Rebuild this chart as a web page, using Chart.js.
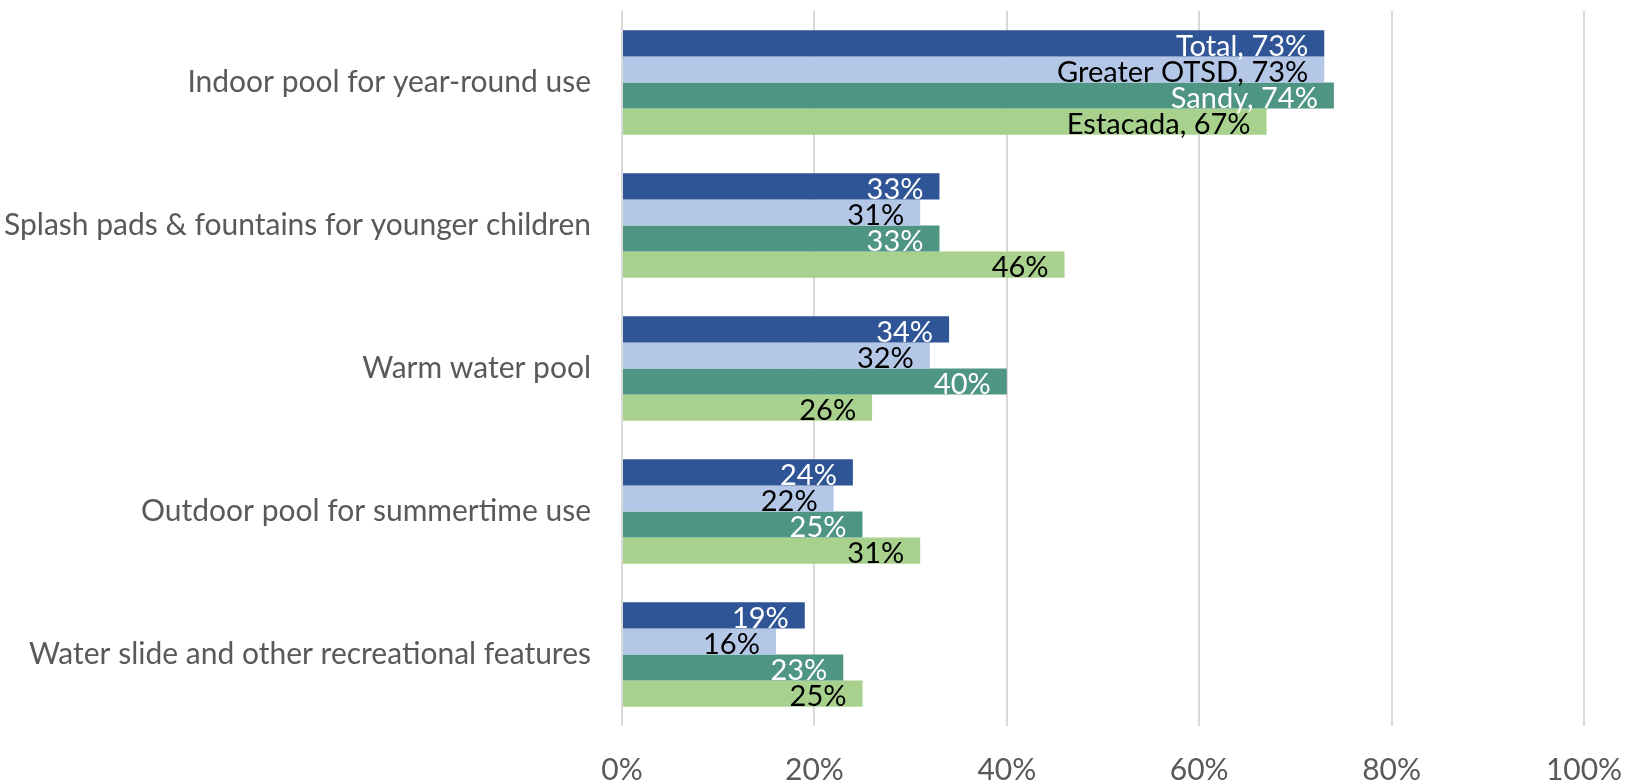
<!DOCTYPE html>
<html>
<head>
  <title>Pool features</title>
  <script src="https://cdn.jsdelivr.net/npm/chart.js@4/dist/chart.umd.min.js"></script>
  <style>
    html, body { margin: 0; padding: 0; background: #fff; }
    #wrap { width: 1627px; height: 781px; }
  </style>
</head>
<body>
  <div id="wrap"><canvas id="chart"></canvas></div>

  <script>
    const categories = [
      'Indoor pool for year-round use',
      'Splash pads & fountains for younger children',
      'Warm water pool',
      'Outdoor pool for summertime use',
      'Water slide and other recreational features'
    ];
    const seriesNames = ['Total', 'Greater OTSD', 'Sandy', 'Estacada'];
    const total = [73, 33, 34, 24, 19];
    const greaterOtsd = [73, 31, 32, 22, 16];
    const sandy = [74, 33, 40, 25, 23];
    const estacada = [67, 46, 26, 31, 25];
    const xTicks = [0, 20, 40, 60, 80, 100];

    const FONT = 'Lato, "Open Sans", sans-serif';
    const colors = ['#2F5597', '#B4C7E7', '#4F9583', '#A9D18E'];
    const labelColors = ['#ffffff', '#000000', '#ffffff', '#000000'];

    const make_dataset = (name, data, i) => ({
      label: name,
      data: data,
      backgroundColor: colors[i],
      borderWidth: 0,
      categoryPercentage: 0.73,
      barPercentage: 1.0
    });

    // value labels at the inside end of each bar
    const barLabels = {
      id: 'barLabels',
      afterDatasetsDraw(chart) {
        const ctx = chart.ctx;
        ctx.save();
        ctx.font = '29px ' + FONT;
        ctx.textAlign = 'right';
        ctx.textBaseline = 'middle';
        chart.data.datasets.forEach((ds, i) => {
          const meta = chart.getDatasetMeta(i);
          meta.data.forEach((bar, j) => {
            let txt = ds.data[j] + '%';
            if (j === 0) txt = ds.label + ', ' + txt;
            ctx.fillStyle = labelColors[i];
            ctx.fillText(txt, bar.x - 16, bar.y + 3);
          });
        });
        ctx.restore();
      }
    };

    const datasets = [total, greaterOtsd, sandy, estacada].map((d, i) => make_dataset(seriesNames[i], d, i));

    new Chart(document.getElementById('chart'), {
      type: 'bar',
      data: { labels: categories, datasets },
      options: {
        indexAxis: 'y',
        responsive: true,
        maintainAspectRatio: false,
        animation: false,
        layout: { padding: { top: 11, right: 43, bottom: 0, left: 0 } },
        plugins: {
          legend: { display: false },
          tooltip: { enabled: false }
        },
        scales: {
          x: {
            min: 0,
            max: 100,
            afterBuildTicks(scale) { scale.ticks = xTicks.map(v => ({ value: v })); },
            afterFit(scale) {
              scale.height = 55;
              scale.paddingLeft = 0;
              scale.paddingRight = 0;
            },
            grid: { color: '#D9D9D9', lineWidth: 2, drawTicks: false },
            border: { display: false },
            ticks: {
              padding: 26,
              color: '#595959',
              font: { family: FONT, size: 30 },
              callback: v => v + '%'
            }
          },
          y: {
            afterFit(scale) {
              scale.width = 622;
              scale.paddingTop = 0;
              scale.paddingBottom = 0;
            },
            grid: { display: false, drawTicks: false },
            border: { display: false },
            ticks: {
              padding: 31,
              color: '#595959',
              font: { family: FONT, size: 30 }
            }
          }
        }
      },
      plugins: [barLabels]
    });
  </script>
</body>
</html>
